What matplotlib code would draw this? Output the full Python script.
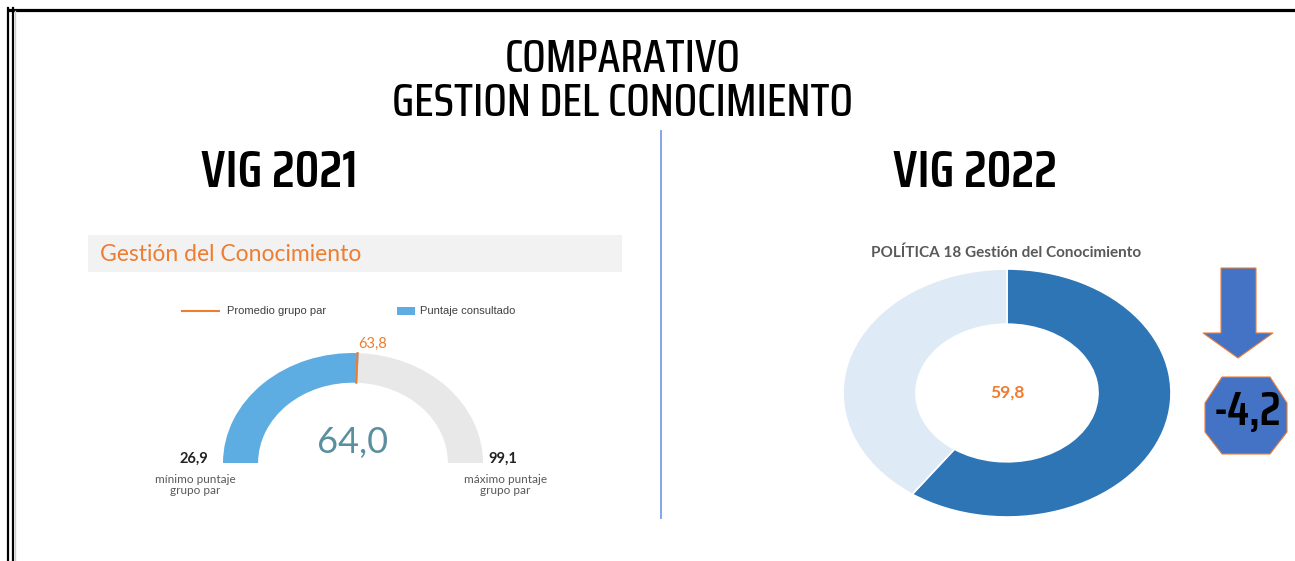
import matplotlib
matplotlib.use("Agg")
import matplotlib.pyplot as plt
from matplotlib.patches import Wedge, Polygon, Rectangle
import numpy as np

# --- datos ---
TITULO = ["COMPARATIVO", "GESTION DEL CONOCIMIENTO"]
ANIOS = ["VIG 2021", "VIG 2022"]

# 2021: indicador tipo gauge
GAUGE_TITULO = "Gestión del Conocimiento"
GAUGE_MIN = 26.9
GAUGE_MAX = 99.1
GAUGE_VALOR = 64.0
GAUGE_PROMEDIO = 63.8
LEYENDA = ["Promedio grupo par", "Puntaje consultado"]

# 2022: dona
DONA_TITULO = "POLÍTICA 18 Gestión del Conocimiento"
DONA_VALOR = 59.8
DONA_PARTES = [DONA_VALOR, 100 - DONA_VALOR]
DIFERENCIA = "-4,2"

NARROW = ["Saira Condensed", "DejaVu Sans"]
ORANGE = "#ed7d31"
W, H = 1295, 561


def fmt(v):
    return f"{v:.1f}".replace(".", ",")


def ax_box(fig, x0, y0, x1, y1):
    """Axes a partir de una caja en pixeles (origen arriba-izquierda)."""
    return fig.add_axes([x0 / W, 1 - y1 / H, (x1 - x0) / W, (y1 - y0) / H])


fig = plt.figure(figsize=(W / 100, H / 100), dpi=100)
fig.patch.set_facecolor("white")

# capa de fondo en pixeles
bg = fig.add_axes([0, 0, 1, 1])
bg.set_xlim(0, W)
bg.set_ylim(H, 0)
bg.axis("off")

# marco
bg.plot([7, W], [9.5, 9.5], color="black", lw=2.3, solid_capstyle="butt")
bg.plot([8, 8], [8, H], color="black", lw=1.6)
bg.plot([13, 13], [8, H], color="black", lw=1.6)
bg.plot([15, 15], [11, H], color="#cfcfcf", lw=1.0)
# separador
bg.plot([661, 661], [131, 518], color="#7b9ee6", lw=1.3)

# titulos
bg.text(623, 59, TITULO[0], ha="center", va="center", fontsize=33,
        fontweight=500, family=NARROW)
bg.text(623, 103, TITULO[1], ha="center", va="center", fontsize=33,
        fontweight=500, family=NARROW)
bg.text(279, 172, ANIOS[0], ha="center", va="center", fontsize=37,
        fontweight=600, family=NARROW)
bg.text(975, 172, ANIOS[1], ha="center", va="center", fontsize=37,
        fontweight=600, family=NARROW)

# cabecera del gauge
bg.add_patch(Rectangle((88, 235), 534, 37, color="#f2f2f2", lw=0))
bg.text(100, 254, GAUGE_TITULO, ha="left", va="center", fontsize=16.5,
        color=ORANGE, family="Lato")

# leyenda
bg.plot([182, 219], [311, 311], color=ORANGE, lw=1.5)
bg.text(227, 311, LEYENDA[0], ha="left", va="center", fontsize=8,
        color="#404040", family="Liberation Sans")
bg.add_patch(Rectangle((397, 307), 18, 8, color="#5dade2", lw=0))
bg.text(420, 311, LEYENDA[1], ha="left", va="center", fontsize=8,
        color="#404040", family="Liberation Sans")

# --- gauge 2021 ---
cx, cy, rx, ry = 353, 463, 130, 110
gx = ax_box(fig, cx - 1.6 * rx, cy - 1.3 * ry, cx + 1.6 * rx, cy + 0.45 * ry)
gx.set_xlim(-1.6, 1.6)
gx.set_ylim(-0.45, 1.3)
gx.axis("off")
gx.patch.set_alpha(0)


def ang(v):
    return 180 - (v - GAUGE_MIN) / (GAUGE_MAX - GAUGE_MIN) * 180


r_out, r_in = 1.0, 0.73
gx.add_patch(Wedge((0, 0), r_out, 0, ang(GAUGE_VALOR), width=r_out - r_in,
                   color="#e8e8e8", lw=0))
gx.add_patch(Wedge((0, 0), r_out, ang(GAUGE_VALOR), 180, width=r_out - r_in,
                   color="#5dade2", lw=0))
a = np.deg2rad(ang(GAUGE_PROMEDIO))
gx.plot([r_in * np.cos(a), r_out * np.cos(a)], [r_in * np.sin(a), r_out * np.sin(a)],
        color=ORANGE, lw=1.5)
gx.text(np.cos(a) + 0.115, 1.08, fmt(GAUGE_PROMEDIO),
        ha="center", va="center", fontsize=10.5, color=ORANGE, family="Lato")
gx.text(0, 0.19, fmt(GAUGE_VALOR), ha="center", va="center", fontsize=26,
        color="#5a8fa0", family="Lato")
gx.text(-1.115, 0.04, fmt(GAUGE_MIN), ha="right", va="center", fontsize=10.5,
        fontweight="bold", color="#222222", family="Lato")
gx.text(1.15, 0.04, fmt(GAUGE_MAX), ha="center", va="center", fontsize=10.5,
        fontweight="bold", color="#222222", family="Lato")
gx.text(-1.215, -0.20, "mínimo puntaje\ngrupo par", ha="center", va="center",
        fontsize=8.5, color="#595959", family="Lato", linespacing=1.0)
gx.text(1.17, -0.20, "máximo puntaje\ngrupo par", ha="center", va="center",
        fontsize=8.5, color="#595959", family="Lato", linespacing=1.0)

# --- dona 2022 ---
dcx, dcy, drx, dry = 1007, 393, 164, 124
dx = ax_box(fig, dcx - drx, dcy - dry, dcx + drx, dcy + dry)
dx.pie(DONA_PARTES, colors=["#2e75b6", "#deebf7"], startangle=90,
       counterclock=False, radius=1,
       wedgeprops=dict(width=0.445, edgecolor="white", linewidth=1.2))
dx.set_aspect("auto")
dx.set_xlim(-1, 1)
dx.set_ylim(-1, 1)
dx.axis("off")
dx.patch.set_alpha(0)
dx.text(0, 0, fmt(DONA_VALOR), ha="center", va="center", fontsize=12.5,
        fontweight="bold", color=ORANGE, family="Lato")

bg.text(1006, 253, DONA_TITULO, ha="center", va="center", fontsize=11,
        fontweight="bold", color="#595959", family="Lato")

# flecha y octagono con la diferencia
bg.add_patch(Polygon([(1221, 268), (1256, 268), (1256, 333), (1273, 333),
                      (1238, 358), (1203, 333), (1221, 333)],
                     closed=True, facecolor="#4472c4", edgecolor=ORANGE, lw=0.8))
bg.add_patch(Polygon([(1222, 377), (1270, 377), (1287, 403), (1287, 432),
                      (1270, 454), (1222, 454), (1205, 432), (1205, 403)],
                     closed=True, facecolor="#4472c4", edgecolor=ORANGE, lw=0.8))
bg.text(1214, 411, DIFERENCIA, ha="left", va="center", fontsize=34,
        fontweight=600, family=NARROW, color="black")

fig.savefig("out.png", dpi=100)
